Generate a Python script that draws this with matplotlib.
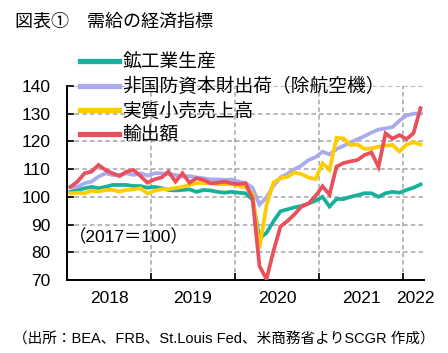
import matplotlib
matplotlib.use("Agg")
import matplotlib.pyplot as plt
import numpy as np

plt.rcParams['font.family'] = ['Liberation Sans', 'Noto Sans CJK JP', 'DejaVu Sans']

# Monthly data Jan 2018 - Mar 2022 (2017 = 100)
industrial_production = [
    101.8, 102.5, 103.1, 103.6, 103.1, 103.6, 104.3, 104.3, 104.3, 103.9, 103.9, 103.3,
    103.6, 103.1, 102.5, 102.3, 102.5, 102.7, 101.8, 102.5, 102.3, 101.8, 101.5, 101.8,
    101.5, 101.3, 99.0, 85.0, 87.0, 91.2, 94.8, 95.5, 96.2, 96.7, 97.6, 98.6,
    100.0, 96.5, 99.2, 99.2, 100.0, 100.6, 101.3, 101.3, 100.0, 101.3, 101.8, 101.5,
    102.5, 103.3, 104.5]
capital_goods = [
    103.6, 103.6, 104.9, 105.5, 107.3, 108.5, 107.9, 107.9, 108.5, 107.9, 108.5, 107.7,
    108.5, 108.5, 108.2, 107.9, 107.3, 107.5, 107.0, 106.7, 106.3, 106.3, 106.1, 106.3,
    105.5, 105.0, 103.3, 97.2, 99.8, 104.0, 107.0, 108.3, 110.0, 111.3, 113.3, 114.3,
    116.3, 115.3, 117.2, 118.4, 119.6, 120.8, 121.9, 123.2, 124.3, 124.7, 125.2, 127.5,
    129.4, 130.0, 130.1]
retail_sales = [
    101.3, 101.5, 101.3, 102.2, 101.9, 102.5, 102.5, 101.9, 102.5, 102.7, 103.1, 101.2,
    102.2, 102.7, 102.8, 103.2, 103.6, 104.3, 104.9, 105.0, 104.9, 104.6, 104.6, 104.6,
    104.0, 103.4, 101.0, 81.5, 97.0, 105.2, 106.7, 107.2, 108.8, 108.2, 107.0, 106.4,
    112.1, 109.7, 121.3, 121.1, 118.7, 118.9, 117.3, 117.5, 118.1, 118.5, 118.7, 116.4,
    118.8, 119.7, 118.9]
exports = [
    103.6, 105.5, 108.5, 109.1, 111.5, 109.7, 108.5, 107.5, 109.1, 109.7, 107.5, 105.1,
    106.3, 107.0, 109.1, 105.5, 108.5, 105.1, 106.7, 106.1, 104.9, 105.1, 105.5, 104.9,
    104.6, 104.9, 99.5, 75.0, 70.3, 80.5, 89.3, 91.3, 93.7, 96.5, 97.6, 100.3,
    103.8, 100.8, 110.9, 112.2, 112.8, 113.3, 115.1, 116.0, 110.8, 122.9, 121.0, 122.3,
    120.8, 123.0, 132.0]

series_labels = ['鉱工業生産', '非国防資本財出荷（除航空機）', '実質小売売上高', '輸出額']
series_colors = ['#17B09B', '#AAAAEE', '#FFCC00', '#E8505B']
year_labels = ['2018', '2019', '2020', '2021', '2022']
year_label_pos = [5.5, 17.5, 29.5, 41.5, 49.3]
year_bounds = [11.5, 23.5, 35.5, 47.5]
y_ticks = [70, 80, 90, 100, 110, 120, 130, 140]

fig = plt.figure(figsize=(4.48, 3.53), dpi=100)
ax = fig.add_axes([67/448, 1-280/353, (424-67)/448, (280-86)/353])

x = np.arange(len(exports))
for data, lab, col in zip([industrial_production, capital_goods, retail_sales, exports],
                          series_labels, series_colors):
    ax.plot(x, data, color=col, lw=2.7, label=lab, solid_joinstyle='miter', zorder=3)

ax.set_xlim(-0.5, len(exports) - 0.5)
ax.set_ylim(70, 140)
ax.set_yticks(y_ticks)
ax.set_yticklabels([str(v) for v in y_ticks])
ax.set_xticks(year_bounds)
ax.set_xticklabels([])
ax.set_xticks(year_label_pos, minor=True)
ax.set_xticklabels(year_labels, minor=True)

ax.tick_params(axis='y', direction='in', length=5, width=1.2, pad=12, labelsize=12.5)
ax.tick_params(axis='x', which='major', direction='in', length=5, width=1.2)
ax.tick_params(axis='x', which='minor', length=0, pad=8, labelsize=12.5)

ax.grid(True, which='major', color='#A6A6A6', linestyle=(0, (3, 2)), linewidth=1.1, zorder=1)
for s in ['top', 'right']:
    ax.spines[s].set_visible(False)
for s in ['left', 'bottom']:
    ax.spines[s].set_linewidth(1.4)
    ax.spines[s].set_color('black')

ax.text(0.005, 0.222, '（2017＝100）', transform=ax.transAxes, fontsize=12.5,
        ha='left', va='center')

leg = ax.legend(loc='upper left', bbox_to_anchor=(80/448, 1-54/353),
                bbox_transform=fig.transFigure, frameon=False, fontsize=13.5,
                handlelength=2.1, handletextpad=0.15, labelspacing=0.36,
                borderpad=0, borderaxespad=0)
for h in leg.get_lines():
    h.set_linewidth(3.8)

fig.text(15/448, 1-22/353, '図表①　需給の経済指標', fontsize=13, ha='left', va='center')
fig.text(0.5, 1-340/353, '（出所：BEA、FRB、St.Louis Fed、米商務省よりSCGR 作成）',
         fontsize=10.5, ha='center', va='center')

fig.savefig('out.png', dpi=100)
